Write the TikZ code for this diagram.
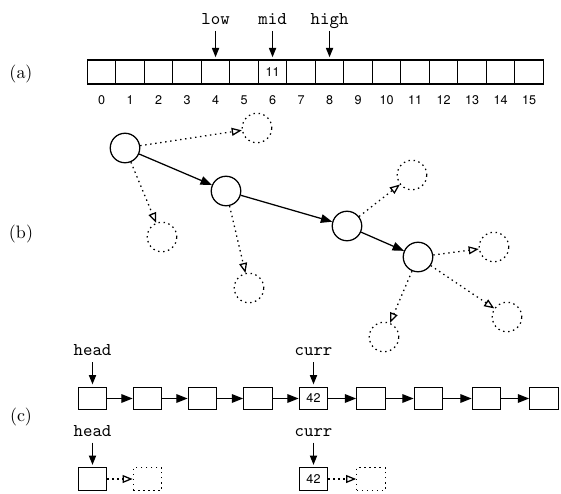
\documentclass[tikz,border=0pt]{standalone}
\usepackage{fontspec}
\setsansfont{TeX Gyre Heros}
\usetikzlibrary{arrows.meta,positioning}

\tikzset{
  dots/.style={dash pattern=on 0.8pt off 2pt},
  cell/.style={draw, line width=0.7pt, minimum width=15.83pt, minimum height=13.33pt, inner sep=0pt, font=\sffamily\scriptsize},
  idx/.style={font=\sffamily\scriptsize},
  ptr/.style={font=\ttfamily, text depth=0pt},
  ring/.style={circle, draw, line width=0.7pt, minimum size=16.4pt, inner sep=0pt},
  ghost/.style={ring, dots},
  elem/.style={draw, line width=0.7pt, minimum width=15.8pt, minimum height=12.6pt, inner sep=0pt, font=\sffamily\scriptsize},
  spare/.style={elem, dots},
  link/.style={line width=0.7pt, -{Triangle[length=6.3pt,width=4.8pt]}},
  point/.style={line width=0.7pt, shorten >=1.2pt, -{Triangle[length=5.2pt,width=4pt]}},
  maybe/.style={line width=0.7pt, dots, -{Triangle[open,length=5.6pt,width=4.4pt]}},
}

\begin{document}
\begin{tikzpicture}[x=0.5556pt, y=-0.5556pt]
            \useasboundingbox (0,0) rectangle (561,493);

            % (a) array
            \node (la) at (21,74) {(a)};
            \foreach \i in {0,...,15} {
                \node[cell] (a\i) at ({101.55+28.5*\i},72) {};
                \node[idx, below=2.7pt of a\i] (n\i) {\i};
            }
            \node[idx] (v6) at (a6) {11};

            \node[ptr, above=15.8pt of a4] (low) {low};
            \node[ptr, above=15.8pt of a6] (mid) {mid};
            \node[ptr, above=15.8pt of a8] (high) {high};
            \foreach \p/\c in {low/a4, mid/a6, high/a8}
                \draw[point] (\p) -- (\c);

            % (b) tree
            \node (lb) at (21,234) {(b)};
            \node[ring] (c1) at (125,148) {};
            \node[ring] (c2) at (226,191) {};
            \node[ring] (c3) at (347,226) {};
            \node[ring] (c4) at (418,257) {};

            \node[ghost] (d1) at (257,128) {};
            \node[ghost] (d2) at (162,237) {};
            \node[ghost] (d3) at (249,288) {};
            \node[ghost] (d4) at (412,175) {};
            \node[ghost] (d5) at (494,247) {};
            \node[ghost] (d6) at (507,317) {};
            \node[ghost] (d7) at (384,337) {};

            \draw[link] (c1) -- (c2);
            \draw[link] (c2) -- (c3);
            \draw[link] (c3) -- (c4);
            \foreach \s/\t in {c1/d1, c1/d2, c2/d3, c3/d4, c4/d5, c4/d6, c4/d7}
                \draw[maybe] (\s) -- (\t);

            % (c) lists
            \node (lc) at (21,417) {(c)};
            \foreach \x/\v [count=\i] in {92.5/{}, 147.5/{}, 202.5/{}, 258/{}, 313.5/42, 371/{}, 428.5/{}, 486.5/{}, 544/{}}
                \node[elem] (l\i) at (\x,398.5) {\v};
            \foreach \i/\j in {1/2, 2/3, 3/4, 4/5, 5/6, 6/7, 7/8, 8/9}
                \draw[link] (l\i) -- (l\j);

            \node[ptr, above=13.5pt of l1] (head) {head};
            \node[ptr, above=13.5pt of l5] (curr) {curr};
            \draw[point] (head) -- (l1);
            \draw[point] (curr) -- (l5);

            \node[elem] (h1) at (92.5,479) {};
            \node[spare] (s1) at (147.5,479) {};
            \node[elem] (k1) at (313.5,479) {42};
            \node[spare] (s2) at (371,479) {};
            \draw[maybe] (h1) -- (s1);
            \draw[maybe] (k1) -- (s2);

            \node[ptr, above=13.5pt of h1] (head2) {head};
            \node[ptr, above=13.5pt of k1] (curr2) {curr};
            \draw[point] (head2) -- (h1);
            \draw[point] (curr2) -- (k1);
        \end{tikzpicture}
\end{document}
